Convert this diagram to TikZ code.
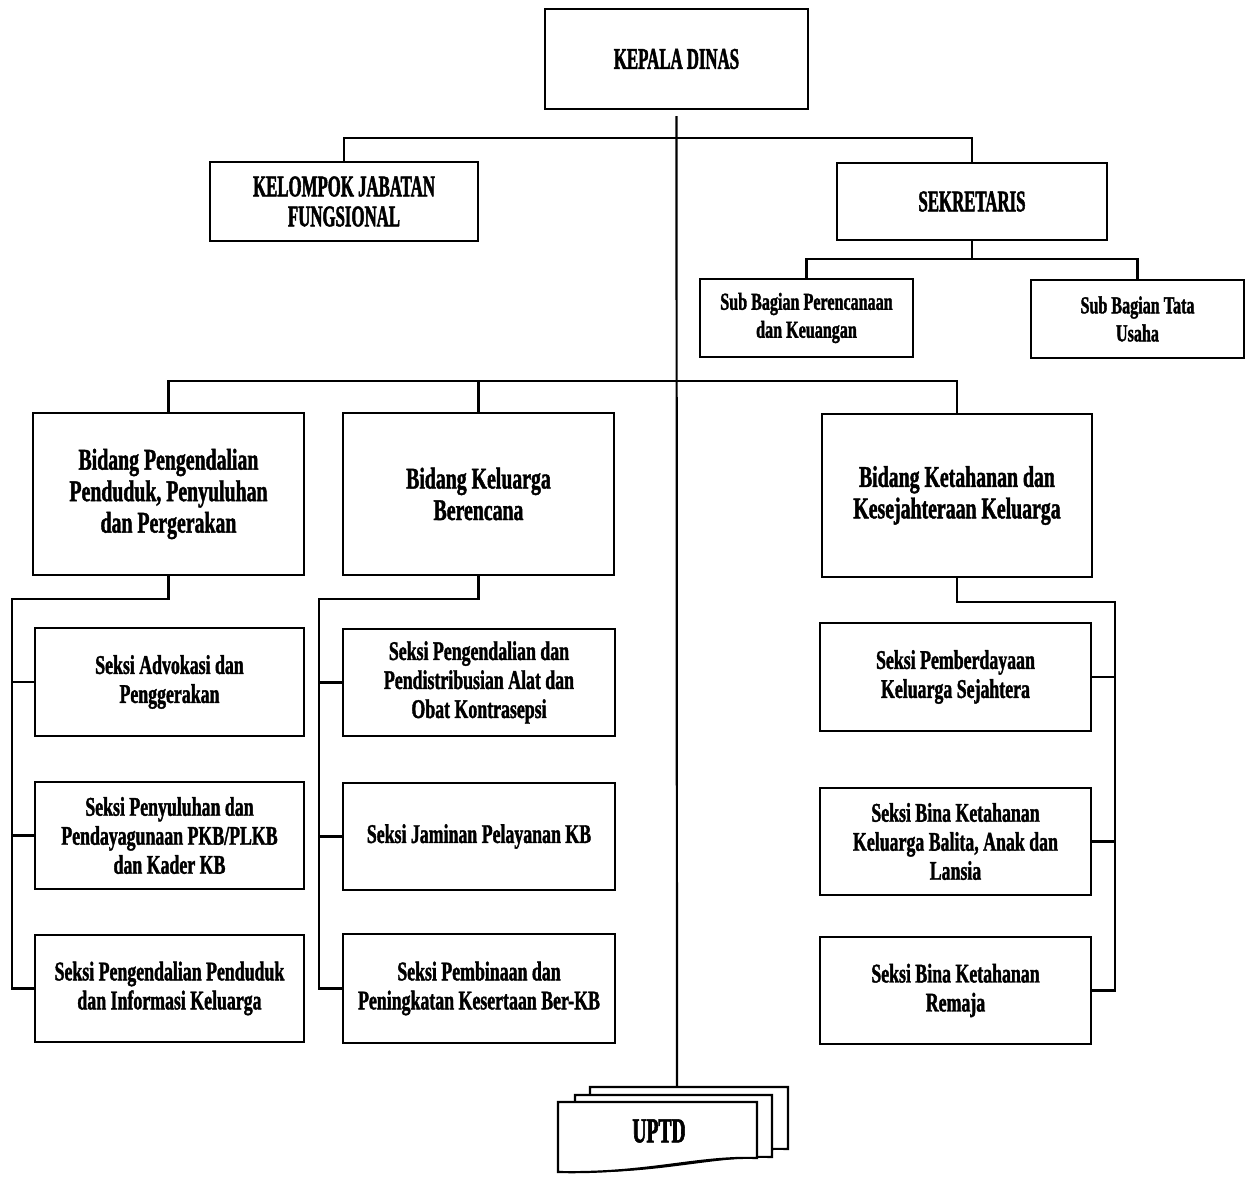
\documentclass[tikz,border=0pt]{standalone}
\usepackage{fontspec}
\setmainfont{Liberation Serif}
\newfontfamily\capf{Liberation Serif}[FakeStretch=0.56, BoldFeatures={FakeBold=1.6}]
\newfontfamily\txtf{Liberation Serif}[FakeStretch=0.66, BoldFeatures={FakeBold=1.4}]
\newcommand\uptdpage[5]{%
  \filldraw[pagest] (#1,#3) -- (#2,#3) -- (#2,#4)
    .. controls ({#2-60},{#4-2}) and ({#2-110},{#5+2}) .. (#1,#5) -- cycle;}
\tikzset{
  box/.style={draw, line width=1.1pt, align=center, inner sep=0pt, text=black},
  capst/.style={font=\capf\bfseries\fontsize{15}{15}\selectfont},
  bid/.style={font=\txtf\bfseries\fontsize{15}{15.75}\selectfont},
  sks/.style={font=\txtf\bfseries\fontsize{13.5}{14.5}\selectfont},
  subst/.style={font=\txtf\bfseries\fontsize{12.2}{14}\selectfont},
  conn/.style={line width=1.1pt},
  pagest/.style={line width=1.1pt, fill=white, draw=black}
}
\begin{document}
\begin{tikzpicture}[x=0.5pt, y=-0.5pt]
\useasboundingbox (0,0) rectangle (1249,1177);
% top level
\node[box, capst, minimum width=131.5pt, minimum height=50pt] (kd) at (676.5,59) {KEPALA DINAS};
\node[box, capst, minimum width=134pt, minimum height=39.5pt] (kjf) at (344,201.5) {KELOMPOK JABATAN\\FUNGSIONAL};
\node[box, capst, minimum width=135pt, minimum height=38.5pt] (sek) at (972,201.5) {SEKRETARIS};
\node[box, subst, minimum width=106.5pt, minimum height=39pt] (sbp) at (806.5,318) {Sub Bagian Perencanaan\\dan Keuangan};
\node[box, subst, minimum width=106.5pt, minimum height=39pt] (sbt) at (1137.5,319) {Sub Bagian Tata\\Usaha};
% bidang
\node[box, bid, minimum width=135.5pt, minimum height=81pt] (b1) at (168.5,494) {Bidang Pengendalian\\Penduduk, Penyuluhan\\dan Pergerakan};
\node[box, bid, minimum width=135.5pt, minimum height=81pt] (b2) at (478.5,494) {Bidang Keluarga\\Berencana};
\node[box, bid, minimum width=135pt, minimum height=81.5pt] (b3) at (957,495.5) {Bidang Ketahanan dan\\Kesejahteraan Keluarga};
% seksi left
\node[box, sks, minimum width=134.5pt, minimum height=54pt] (l1) at (169.5,682) {Seksi Advokasi dan\\Penggerakan};
\node[box, sks, minimum width=134.5pt, minimum height=53.5pt] (l2) at (169.5,835.5) {Seksi Penyuluhan dan\\Pendayagunaan PKB/PLKB\\dan Kader KB};
\node[box, sks, minimum width=134.5pt, minimum height=53.5pt] (l3) at (169.5,988.5) {Seksi Pengendalian Penduduk\\dan Informasi Keluarga};
% seksi middle
\node[box, sks, minimum width=136pt, minimum height=53.5pt] (m1) at (479,682.5) {Seksi Pengendalian dan\\Pendistribusian Alat dan\\Obat Kontrasepsi};
\node[box, sks, minimum width=136pt, minimum height=53.5pt] (m2) at (479,836.5) {Seksi Jaminan Pelayanan KB};
\node[box, sks, minimum width=136pt, minimum height=54.5pt] (m3) at (479,988.5) {Seksi Pembinaan dan\\Peningkatan Kesertaan Ber-KB};
% seksi right
\node[box, sks, minimum width=135.5pt, minimum height=54pt] (r1) at (955.5,677) {Seksi Pemberdayaan\\Keluarga Sejahtera};
\node[box, sks, minimum width=135.5pt, minimum height=53.5pt] (r2) at (955.5,841.5) {Seksi Bina Ketahanan\\Keluarga Balita, Anak dan\\Lansia};
\node[box, sks, minimum width=135.5pt, minimum height=53.5pt] (r3) at (955.5,990.5) {Seksi Bina Ketahanan\\Remaja};
% UPTD pages
\uptdpage{590}{788}{1087}{1149}{1163}
\uptdpage{575}{772}{1095}{1157}{1171}
\uptdpage{558}{757}{1102}{1158}{1172}
\node[font=\capf\bfseries\fontsize{17.5}{17.5}\selectfont, inner sep=0pt] (uptd) at (659,1131) {UPTD};
% coordinates
\coordinate (hT) at (677,138);
\coordinate (hS) at (972,259);
\coordinate (hB) at (677,381);
\coordinate (uptdtop) at (677,1087);
\coordinate (jL) at (12,599);
\coordinate (jM) at (319,599);
\coordinate (jR) at (1115,602);
% main spine
\draw[conn] ([yshift=-3pt]kd.south) -- (uptdtop);
% top branch
\draw[conn] (kjf.north) -- (kjf.north |- hT) -- (sek.north |- hT) -- (sek.north);
% sekretaris branch
\draw[conn] (sek.south) -- (sek.south |- hS);
\draw[conn] (sbp.north) -- (sbp.north |- hS) -- (sbt.north |- hS) -- (sbt.north);
% bidang branch
\draw[conn] (b1.north) -- (b1.north |- hB) -- (b3.north |- hB) -- (b3.north);
\draw[conn] (b2.north) -- (b2.north |- hB);
% left bus
\draw[conn] (b1.south) -- (b1.south |- jL) -- (jL) -- (jL |- l3.west) -- (l3.west);
\draw[conn] (l1.west) -- (l1.west -| jL);
\draw[conn] (l2.west) -- (l2.west -| jL);
% middle bus
\draw[conn] (b2.south) -- (b2.south |- jM) -- (jM) -- (jM |- m3.west) -- (m3.west);
\draw[conn] (m1.west) -- (m1.west -| jM);
\draw[conn] (m2.west) -- (m2.west -| jM);
% right bus
\draw[conn] (b3.south) -- (b3.south |- jR) -- (jR) -- (jR |- r3.east) -- (r3.east);
\draw[conn] (r1.east) -- (r1.east -| jR);
\draw[conn] (r2.east) -- (r2.east -| jR);
\end{tikzpicture}
\end{document}
